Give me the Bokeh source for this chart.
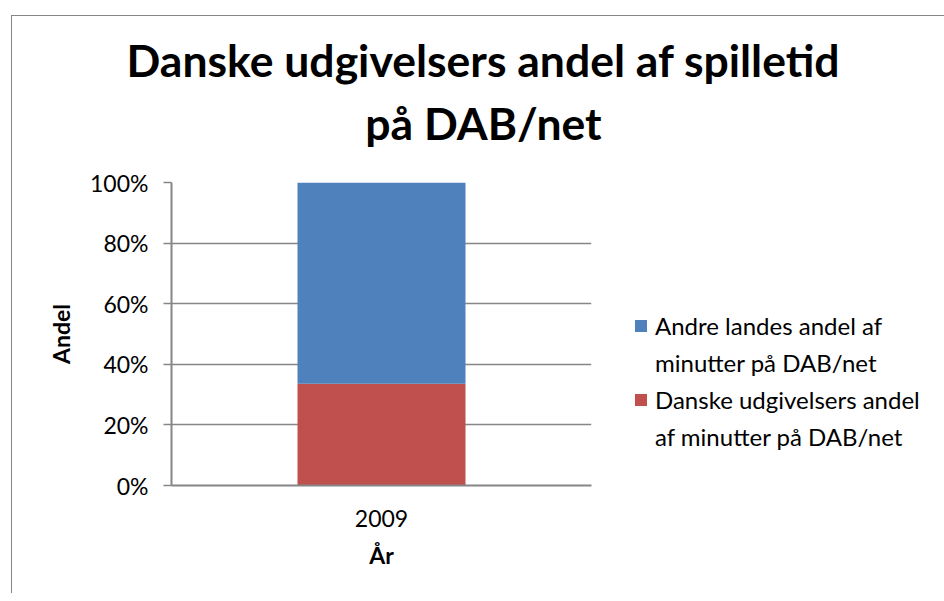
from bokeh.plotting import figure
from bokeh.layouts import column
from bokeh.models import (Range1d, FactorRange, NumeralTickFormatter, Legend,
                          LegendItem, ColumnDataSource, FixedTicker)
from bokeh.core.properties import value
from bokeh.embed import file_html
from bokeh.resources import INLINE

# ---- data ----
years = ["2009"]
danske_pct = [33.6]   # Danske udgivelsers andel af minutter på DAB/net
andre_pct = [66.4]    # Andre landes andel af minutter på DAB/net
series_keys = ["danske", "andre"]
andre_label_lines = ["Andre landes andel af", "minutter på DAB/net"]
danske_label_lines = ["Danske udgivelsers andel", "af minutter på DAB/net"]
series_colors = ["#C0504D", "#4F81BD"]
y_tick_values = [0, 0.2, 0.4, 0.6, 0.8, 1.0]
title_lines = ["Danske udgivelsers andel af spilletid", "på DAB/net"]
x_label = "År"
y_label = "Andel"

FONT = "Lato"
GRAY = "#868686"

# ---- title strip (centered over the whole chart, pixel coordinates) ----
STRIP_W, STRIP_H = 924, 140
title_center_x = 471
title_baselines = [97, 34]
t = figure(width=STRIP_W, height=STRIP_H,
           x_range=Range1d(0, STRIP_W), y_range=Range1d(0, STRIP_H),
           min_border=0, min_border_left=0, min_border_right=0,
           min_border_top=0, min_border_bottom=0,
           x_axis_location=None, y_axis_location=None,
           output_backend="svg", toolbar_location=None)
t.frame_align = False
t.title.visible = False
t.grid.visible = False
t.outline_line_color = None
t.text(x=[title_center_x] * len(title_lines), y=title_baselines, text=title_lines,
       text_align="center", text_baseline="alphabetic",
       text_font=value(FONT), text_font_style="bold",
       text_font_size="44.5px", text_color="black")

# ---- main chart ----
src = ColumnDataSource(dict(year=years,
                            danske=[v / 100 for v in danske_pct],
                            andre=[v / 100 for v in andre_pct]))

p = figure(x_range=FactorRange(*years, range_padding=0),
           y_range=Range1d(0, 1),
           frame_width=420, frame_height=303,
           min_border_left=159, min_border_right=345,
           min_border_top=26, min_border_bottom=108,
           output_backend="svg", toolbar_location=None)
p.frame_align = False
p.outline_line_color = None

rs = p.vbar_stack(series_keys, x="year", width=0.4, color=series_colors,
                  line_color=None, source=src)

p.yaxis.ticker = FixedTicker(ticks=y_tick_values)
p.yaxis.formatter = NumeralTickFormatter(format="0%")
p.yaxis.major_tick_out = 8
p.yaxis.major_tick_in = 0
p.yaxis.minor_tick_line_color = None
p.yaxis.major_tick_line_color = GRAY
p.yaxis.major_tick_line_width = 1.5
p.yaxis.axis_line_color = GRAY
p.yaxis.axis_line_width = 2
p.yaxis.major_label_standoff = 15
p.yaxis.major_label_text_font = FONT
p.yaxis.major_label_text_font_size = "23px"
p.yaxis.major_label_text_color = "black"
p.yaxis.axis_label = y_label
p.yaxis.axis_label_text_font = FONT
p.yaxis.axis_label_text_font_style = "bold"
p.yaxis.axis_label_text_font_size = "23px"
p.yaxis.axis_label_text_color = "black"
p.yaxis.axis_label_standoff = 12

p.xaxis.major_tick_line_color = None
p.xaxis.minor_tick_line_color = None
p.xaxis.axis_line_color = GRAY
p.xaxis.axis_line_width = 2
p.xaxis.major_label_standoff = 18
p.xaxis.major_label_text_font = FONT
p.xaxis.major_label_text_font_size = "23px"
p.xaxis.major_label_text_color = "black"
p.xaxis.axis_label = x_label
p.xaxis.axis_label_text_font = FONT
p.xaxis.axis_label_text_font_style = "bold"
p.xaxis.axis_label_text_font_size = "23px"
p.xaxis.axis_label_text_color = "black"
p.xaxis.axis_label_standoff = 11

p.xgrid.grid_line_color = None
p.ygrid.ticker = FixedTicker(ticks=y_tick_values)
p.ygrid.grid_line_color = GRAY
p.ygrid.grid_line_width = 1.5

# legend: blue entry first; swatch beside the first line of each entry
items = [LegendItem(label=andre_label_lines[0], renderers=[rs[1]]),
         LegendItem(label=andre_label_lines[1], renderers=[]),
         LegendItem(label=danske_label_lines[0], renderers=[rs[0]]),
         LegendItem(label=danske_label_lines[1], renderers=[])]
legend = Legend(items=items, location=(42, 30),
                label_text_font=FONT, label_text_font_size="24px",
                label_text_color="black", label_height=37,
                glyph_width=15, glyph_height=15, label_standoff=7,
                spacing=0, padding=0, margin=0,
                border_line_color=None, background_fill_alpha=0)
p.add_layout(legend, "right")

layout = column(t, p, spacing=0,
                styles={"margin-left": "11px", "margin-top": "15px",
                        "border-left": f"1px solid {GRAY}",
                        "border-top": f"1px solid {GRAY}"})

open("out.html", "w").write(file_html(layout, INLINE))
